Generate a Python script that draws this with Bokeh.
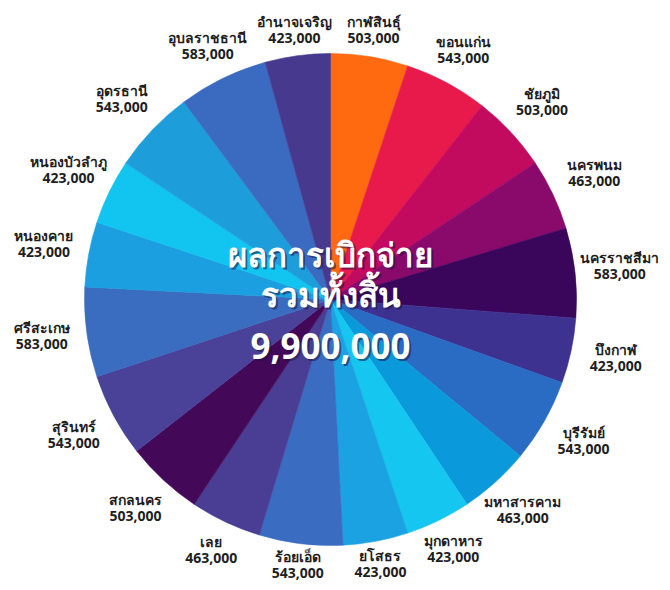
import numpy as np
from bokeh.plotting import figure
from bokeh.models import Range1d, ColumnDataSource
from bokeh.core.properties import value
from bokeh.embed import file_html
from bokeh.resources import INLINE

# ---- data ----
provinces = ["กาฬสินธุ์", "ขอนแก่น", "ชัยภูมิ", "นครพนม", "นครราชสีมา",
             "บึงกาฬ", "บุรีรัมย์", "มหาสารคาม", "มุกดาหาร", "ยโสธร",
             "ร้อยเอ็ด", "เลย", "สกลนคร", "สุรินทร์", "ศรีสะเกษ",
             "หนองคาย", "หนองบัวลำภู", "อุดรธานี", "อุบลราชธานี", "อำนาจเจริญ"]
amounts = [503000, 543000, 503000, 463000, 583000,
           423000, 543000, 463000, 423000, 423000,
           543000, 463000, 503000, 543000, 583000,
           423000, 423000, 543000, 583000, 423000]
slice_colors = ["#FF6A10", "#E8194B", "#C20A5E", "#8A0A6C", "#3A065C",
                "#3E3290", "#2A6CC4", "#0A9ADC", "#14C6F0", "#1BA2E2",
                "#3A6CC2", "#4A3E94", "#440858", "#4A4298", "#3A6CC0",
                "#1C9FE0", "#12C5F0", "#1E9DDB", "#3B6BC0", "#47398E"]
center_lines = ["ผลการเบิกจ่าย", "รวมทั้งสิ้น"]

# ---- layout ----
W, H = 662, 582
cx, cy = 330, 283
R = 246

vals = np.array(amounts, dtype=float)
total = int(vals.sum())
cum = np.concatenate([[0], np.cumsum(vals)]) / vals.sum() * 2 * np.pi
t0, t1 = cum[:-1], cum[1:]
start = np.pi / 2 - t1
end = np.pi / 2 - t0
mid = (t0 + t1) / 2

p = figure(width=W, height=H, output_backend="svg", toolbar_location=None,
           x_range=Range1d(0, W), y_range=Range1d(0, H), min_border=0)
p.axis.visible = False
p.grid.visible = False
p.outline_line_color = None
p.background_fill_color = "white"
p.border_fill_color = "white"

src = ColumnDataSource(dict(x=[cx] * len(vals), y=[cy] * len(vals),
                            start=start, end=end, color=slice_colors))
p.wedge(x="x", y="y", radius=R, start_angle="start", end_angle="end",
        direction="anticlock", fill_color="color", line_color="color",
        line_width=0.6, source=src)

# ---- outside labels ----
gap, hw, hh = 7, 37, 12
sx, sy = np.sin(mid), np.cos(mid)
rr = R + gap + hw * np.abs(sx) + hh * np.abs(sy)
lx = cx + rr * sx
ly = cy + rr * sy
lab = ColumnDataSource(dict(x=lx, y=ly, name=provinces,
                            val=[f"{a:,}" for a in amounts]))
font = value("Noto Sans")
p.text(x="x", y="y", text="name", source=lab, y_offset=-1,
       text_align="center", text_baseline="bottom", text_font=font,
       text_font_size="14px", text_font_style="bold", text_color="#1e1e1e")
p.text(x="x", y="y", text="val", source=lab, y_offset=1,
       text_align="center", text_baseline="top", text_font=font,
       text_font_size="14px", text_font_style="bold", text_color="#1e1e1e")

# ---- center text ----
ctext = center_lines + [f"{total:,}"]
cys = [cy + 45, cy + 5, cy - 46]
sizes = ["33px", "33px", "35px"]
csrc_sh = ColumnDataSource(dict(x=[cx + 2] * 3, y=[c - 2 for c in cys], t=ctext, s=sizes))
csrc = ColumnDataSource(dict(x=[cx] * 3, y=cys, t=ctext, s=sizes))
p.text(x="x", y="y", text="t", source=csrc_sh, text_align="center",
       text_baseline="alphabetic", text_font=font, text_font_size="s",
       text_font_style="bold", text_color="#1a1440", text_alpha=0.55)
p.text(x="x", y="y", text="t", source=csrc, text_align="center",
       text_baseline="alphabetic", text_font=font, text_font_size="s",
       text_font_style="bold", text_color="white")

open("out.html", "w").write(file_html(p, INLINE))
